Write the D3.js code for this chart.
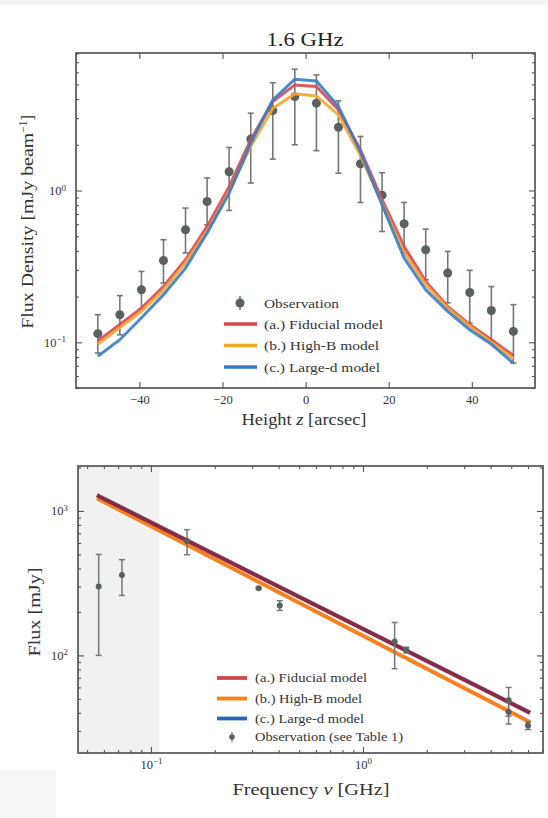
<!DOCTYPE html>
<html>
<head>
<meta charset="utf-8">
<script src="https://cdn.jsdelivr.net/npm/d3@7"></script>
<style>
  body { margin: 0; background: #fff; }
  svg { display: block; font-family: "Liberation Serif", "DejaVu Serif", serif; }
  .tick line { stroke: #555; stroke-width: 1.1; }
</style>
</head>
<body>
<svg id="fig" width="548" height="818"></svg>
<script>
// ---- top panel: vertical profile at 1.6 GHz ----
var heights = [-50, -44.7, -39.5, -34.2, -28.9, -23.7, -18.4, -13.2, -7.9, -2.6, 2.6, 7.9, 13.2, 18.4, 23.7, 28.9, 34.2, 39.5, 44.7, 50];
var obsFlux = [0.114, 0.152, 0.222, 0.346, 0.551, 0.847, 1.33, 2.18, 3.36, 4.15, 3.76, 2.61, 1.5, 0.93, 0.604, 0.407, 0.286, 0.213, 0.162, 0.118];
var obsLow  = [0.085, 0.112, 0.166, 0.246, 0.388, 0.594, 0.739, 1.12, 1.61, 2.0, 1.83, 1.30, 0.834, 0.537, 0.387, 0.258, 0.182, 0.134, 0.102, 0.073];
var obsHigh = [0.152, 0.203, 0.293, 0.474, 0.766, 1.21, 1.92, 3.23, 5.13, 6.29, 5.77, 3.89, 2.27, 1.31, 0.834, 0.557, 0.397, 0.298, 0.233, 0.177];
var fiducial = [0.102, 0.131, 0.168, 0.233, 0.35, 0.58, 1.06, 2.16, 3.85, 4.96, 4.85, 3.4, 1.85, 0.87, 0.428, 0.252, 0.172, 0.131, 0.104, 0.082];
var highB    = [0.097, 0.125, 0.16, 0.222, 0.335, 0.54, 0.98, 1.95, 3.48, 4.33, 4.2, 3.15, 1.7, 0.82, 0.39, 0.24, 0.168, 0.128, 0.1, 0.078];
var largeD   = [0.081, 0.104, 0.145, 0.206, 0.308, 0.525, 0.96, 2.05, 3.95, 5.41, 5.27, 3.57, 1.8, 0.805, 0.359, 0.222, 0.16, 0.121, 0.097, 0.073];
var topXTicks = [-40, -20, 0, 20, 40];
var topYTicks = [0.1, 1];

// ---- bottom panel: integrated spectrum ----
var freqObs = [0.0567, 0.073, 0.148, 0.322, 0.405, 1.41, 1.6, 4.86, 4.86, 6.0];
var fluxObs = [300, 360, 620, 292, 222, 125, 109, 49, 40.5, 32.7];
var fluxErr = [200, 100, 122, 4, 17, 44, 5, 11, 7, 2];
var modelFreq = [0.0556, 6.14];
var fidSpec   = [1285, 40];
var highBSpec = [1224, 34.5];
var largeDSpec = [1292, 40.3];
var botXTicks = [0.1, 1];
var botYTicks = [100, 1000];
var shadeEdge = 0.11;

var topLegend = ["Observation", "(a.) Fiducial model", "(b.) High-B model", "(c.) Large-d model"];
var topLegendW = [75, 119, 115, 116];
var botLegend = ["(a.) Fiducial model", "(b.) High-B model", "(c.) Large-d model", "Observation (see Table 1)"];
var botLegendW = [112, 107, 109, 148];

var svg = d3.select("#fig");

// faint grey page bits from the scan
svg.append("rect").attr("x", 0).attr("y", 0).attr("width", 548).attr("height", 5).attr("fill", "#f4f4f4");
svg.append("rect").attr("x", 0).attr("y", 770).attr("width", 56).attr("height", 48).attr("fill", "#f6f6f6");

function supLabel(sel, exp) {
  sel.text("10");
  sel.append("tspan").attr("dy", "-0.5em").attr("font-size", "0.72em").text(exp);
}
function minorLog(lo, hi) {
  var out = [];
  for (var e = Math.floor(Math.log10(lo)); e <= Math.ceil(Math.log10(hi)); e++) {
    for (var k = 2; k <= 9; k++) {
      var v = k * Math.pow(10, e);
      if (v >= lo && v <= hi) out.push(v);
    }
  }
  return out;
}
function clean(g) {
  g.select(".domain").remove();
  g.attr("font-family", "Liberation Serif").attr("font-size", 12.5);
  g.selectAll("text").attr("fill", "#333");
}

// =============== TOP PANEL ===============
var t = {left: 76, right: 535, top: 53, bottom: 388};
var x1 = d3.scaleLinear().domain([-55.25, 55.2]).range([t.left, t.right]);
var y1 = d3.scaleLog().domain([0.05, 8.05]).range([t.bottom, t.top]);

svg.append("text").attr("x", 305).attr("y", 46)
  .attr("text-anchor", "middle").attr("font-size", 19).attr("fill", "#222")
  .attr("textLength", 77).attr("lengthAdjust", "spacingAndGlyphs").text("1.6 GHz");

var g1 = svg.append("g");
var minor1 = minorLog(0.05, 8.05);

g1.append("g").attr("transform", "translate(0," + t.bottom + ")")
  .call(d3.axisBottom(x1).tickValues(topXTicks).tickSize(-6).tickPadding(7)
    .tickFormat(function(d){ return d < 0 ? "\u2212" + Math.abs(d) : d; }))
  .call(clean);
g1.append("g").attr("transform", "translate(0," + t.top + ")")
  .call(d3.axisTop(x1).tickValues(topXTicks).tickSize(-6).tickFormat(""))
  .call(clean);
g1.append("g").attr("transform", "translate(" + t.left + ",0)")
  .call(d3.axisLeft(y1).tickValues(topYTicks).tickSize(-6).tickPadding(10).tickFormat(""))
  .call(clean)
  .call(function(g){
    g.selectAll("text").each(function(d){ supLabel(d3.select(this), d === 1 ? "0" : "\u22121"); });
  });
g1.append("g").attr("transform", "translate(" + t.left + ",0)")
  .call(d3.axisLeft(y1).tickValues(minor1).tickSize(-3).tickFormat(""))
  .call(clean);
g1.append("g").attr("transform", "translate(" + t.right + ",0)")
  .call(d3.axisRight(y1).tickValues(topYTicks).tickSize(-6).tickFormat(""))
  .call(clean);
g1.append("g").attr("transform", "translate(" + t.right + ",0)")
  .call(d3.axisRight(y1).tickValues(minor1).tickSize(-3).tickFormat(""))
  .call(clean);

// error bars + points
var obsTop = heights.map(function(h, i){ return {x: h, y: obsFlux[i], lo: obsLow[i], hi: obsHigh[i]}; });
var eb = g1.append("g").attr("stroke", "#777").attr("stroke-width", 1.6);
eb.selectAll("line.v").data(obsTop).enter().append("line")
  .attr("x1", function(d){ return x1(d.x); }).attr("x2", function(d){ return x1(d.x); })
  .attr("y1", function(d){ return y1(d.lo); }).attr("y2", function(d){ return y1(d.hi); });
eb.selectAll("line.c1").data(obsTop).enter().append("line")
  .attr("x1", function(d){ return x1(d.x) - 3; }).attr("x2", function(d){ return x1(d.x) + 3; })
  .attr("y1", function(d){ return y1(d.hi); }).attr("y2", function(d){ return y1(d.hi); });
eb.selectAll("line.c2").data(obsTop).enter().append("line")
  .attr("x1", function(d){ return x1(d.x) - 3; }).attr("x2", function(d){ return x1(d.x) + 3; })
  .attr("y1", function(d){ return y1(d.lo); }).attr("y2", function(d){ return y1(d.lo); });
g1.selectAll("circle.obs").data(obsTop).enter().append("circle")
  .attr("cx", function(d){ return x1(d.x); }).attr("cy", function(d){ return y1(d.y); })
  .attr("r", 4.5).attr("fill", "#5a615d");

var topColors = ["#d9464e", "#f3a530", "#3a7cc4"];
var line1 = d3.line().x(function(d){ return x1(d[0]); }).y(function(d){ return y1(d[1]); });
[fiducial, highB, largeD].forEach(function(s, k){
  g1.append("path").datum(heights.map(function(h, i){ return [h, s[i]]; }))
    .attr("d", line1).attr("fill", "none").attr("stroke", topColors[k])
    .attr("stroke-width", 3).attr("stroke-opacity", 0.9);
});

g1.append("rect").attr("x", t.left).attr("y", t.top).attr("width", t.right - t.left).attr("height", t.bottom - t.top)
  .attr("fill", "none").attr("stroke", "#555").attr("stroke-width", 1.7);

// legend top
var lg1 = g1.append("g");
var lgY1 = [303, 324, 345.5, 367];
lg1.append("line").attr("x1", 240).attr("x2", 240).attr("y1", lgY1[0] - 7).attr("y2", lgY1[0] + 7)
  .attr("stroke", "#777").attr("stroke-width", 1.6);
lg1.append("circle").attr("cx", 240).attr("cy", lgY1[0]).attr("r", 4.5).attr("fill", "#5a615d");
topColors.forEach(function(c, k){
  lg1.append("line").attr("x1", 224).attr("x2", 257).attr("y1", lgY1[k + 1]).attr("y2", lgY1[k + 1])
    .attr("stroke", c).attr("stroke-width", 3.6);
});
lg1.selectAll("text").data(topLegend).enter().append("text")
  .attr("x", 264).attr("y", function(d, i){ return lgY1[i]; }).attr("dy", "0.35em")
  .attr("font-size", 13).attr("fill", "#333")
  .attr("textLength", function(d, i){ return topLegendW[i]; }).attr("lengthAdjust", "spacingAndGlyphs")
  .text(function(d){ return d; });

// axis labels
svg.append("text").attr("x", 304).attr("y", 425).attr("text-anchor", "middle")
  .attr("font-size", 16).attr("fill", "#333")
  .attr("textLength", 125).attr("lengthAdjust", "spacingAndGlyphs")
  .call(function(s){ s.text("Height "); s.append("tspan").attr("font-style", "italic").text("z"); s.append("tspan").text(" [arcsec]"); });
svg.append("text").attr("transform", "translate(33,222) rotate(-90)")
  .attr("text-anchor", "middle").attr("font-size", 16).attr("fill", "#333")
  .call(function(s){ s.append("tspan").attr("textLength", 196).attr("lengthAdjust", "spacingAndGlyphs").text("Flux Density [mJy beam"); s.append("tspan").attr("dy", "-0.5em").attr("font-size", "0.72em").text("\u22121"); s.append("tspan").attr("dy", "0.35em").text("]"); });

// =============== BOTTOM PANEL ===============
var b = {left: 78, right: 543, top: 466, bottom: 753};
var x2 = d3.scaleLog().domain([0.0453, 7.06]).range([b.left, b.right]);
var y2 = d3.scaleLog().domain([21.1, 2048]).range([b.bottom, b.top]);
var g2 = svg.append("g");

g2.append("rect").attr("x", b.left).attr("y", b.top).attr("width", x2(shadeEdge) - b.left).attr("height", b.bottom - b.top)
  .attr("fill", "#f1f1f1");

var minorX2 = minorLog(0.0453, 7.06), minorY2 = minorLog(21.1, 2048);
g2.append("g").attr("transform", "translate(0," + b.bottom + ")")
  .call(d3.axisBottom(x2).tickValues(botXTicks).tickSize(-6).tickPadding(7).tickFormat(""))
  .call(clean)
  .call(function(g){
    g.selectAll("text").each(function(d){ supLabel(d3.select(this), d === 1 ? "0" : "\u22121"); });
  });
g2.append("g").attr("transform", "translate(0," + b.bottom + ")")
  .call(d3.axisBottom(x2).tickValues(minorX2).tickSize(-3).tickFormat(""))
  .call(clean);
g2.append("g").attr("transform", "translate(0," + b.top + ")")
  .call(d3.axisTop(x2).tickValues(botXTicks).tickSize(-6).tickFormat(""))
  .call(clean);
g2.append("g").attr("transform", "translate(0," + b.top + ")")
  .call(d3.axisTop(x2).tickValues(minorX2).tickSize(-3).tickFormat(""))
  .call(clean);
g2.append("g").attr("transform", "translate(" + b.left + ",0)")
  .call(d3.axisLeft(y2).tickValues(botYTicks).tickSize(-6).tickPadding(10).tickFormat(""))
  .call(clean)
  .call(function(g){
    g.selectAll("text").each(function(d){ supLabel(d3.select(this), d === 1000 ? "3" : "2"); });
  });
g2.append("g").attr("transform", "translate(" + b.left + ",0)")
  .call(d3.axisLeft(y2).tickValues(minorY2).tickSize(-3).tickFormat(""))
  .call(clean);
g2.append("g").attr("transform", "translate(" + b.right + ",0)")
  .call(d3.axisRight(y2).tickValues(botYTicks).tickSize(-6).tickFormat(""))
  .call(clean);
g2.append("g").attr("transform", "translate(" + b.right + ",0)")
  .call(d3.axisRight(y2).tickValues(minorY2).tickSize(-3).tickFormat(""))
  .call(clean);

// model spectra (red and blue overlap -> dark maroon)
var line2 = d3.line().x(function(d){ return x2(d[0]); }).y(function(d){ return y2(d[1]); });
function spec(s){ return modelFreq.map(function(f, i){ return [f, s[i]]; }); }
g2.append("path").datum(spec(highBSpec)).attr("d", line2).attr("fill", "none").attr("stroke", "#f5821f").attr("stroke-width", 4);
g2.append("path").datum(spec(fidSpec)).attr("d", line2).attr("fill", "none").attr("stroke", "#a32539").attr("stroke-width", 4);
g2.append("path").datum(spec(largeDSpec)).attr("d", line2).attr("fill", "none").attr("stroke", "#2a3f80").attr("stroke-width", 4).attr("stroke-opacity", 0.25);

// observations
var obsBot = freqObs.map(function(f, i){ return {x: f, y: fluxObs[i], e: fluxErr[i]}; });
var eb2 = g2.append("g").attr("stroke", "#777").attr("stroke-width", 1.5);
eb2.selectAll("line.v").data(obsBot).enter().append("line")
  .attr("x1", function(d){ return x2(d.x); }).attr("x2", function(d){ return x2(d.x); })
  .attr("y1", function(d){ return y2(d.y - d.e); }).attr("y2", function(d){ return y2(d.y + d.e); });
eb2.selectAll("line.c1").data(obsBot).enter().append("line")
  .attr("x1", function(d){ return x2(d.x) - 3; }).attr("x2", function(d){ return x2(d.x) + 3; })
  .attr("y1", function(d){ return y2(d.y + d.e); }).attr("y2", function(d){ return y2(d.y + d.e); });
eb2.selectAll("line.c2").data(obsBot).enter().append("line")
  .attr("x1", function(d){ return x2(d.x) - 3; }).attr("x2", function(d){ return x2(d.x) + 3; })
  .attr("y1", function(d){ return y2(d.y - d.e); }).attr("y2", function(d){ return y2(d.y - d.e); });
g2.selectAll("circle.obs").data(obsBot).enter().append("circle")
  .attr("cx", function(d){ return x2(d.x); }).attr("cy", function(d){ return y2(d.y); })
  .attr("r", 3).attr("fill", "#5a615d");

g2.append("rect").attr("x", b.left).attr("y", b.top).attr("width", b.right - b.left).attr("height", b.bottom - b.top)
  .attr("fill", "none").attr("stroke", "#555").attr("stroke-width", 1.7);

// legend bottom
var lgY2 = [678, 698.5, 718.5, 737];
var botColors = ["#d2474f", "#f5821f", "#2c64b4"];
botColors.forEach(function(c, k){
  g2.append("line").attr("x1", 217).attr("x2", 247).attr("y1", lgY2[k]).attr("y2", lgY2[k])
    .attr("stroke", c).attr("stroke-width", 3.8);
});
g2.append("line").attr("x1", 232).attr("x2", 232).attr("y1", lgY2[3] - 5).attr("y2", lgY2[3] + 5)
  .attr("stroke", "#777").attr("stroke-width", 1.3);
g2.append("circle").attr("cx", 232).attr("cy", lgY2[3]).attr("r", 2.8).attr("fill", "#5a615d");
g2.selectAll("text.lg").data(botLegend).enter().append("text")
  .attr("x", 255).attr("y", function(d, i){ return lgY2[i]; }).attr("dy", "0.35em")
  .attr("font-size", 12.5).attr("fill", "#333")
  .attr("textLength", function(d, i){ return botLegendW[i]; }).attr("lengthAdjust", "spacingAndGlyphs")
  .text(function(d){ return d; });

svg.append("text").attr("x", 311).attr("y", 795).attr("text-anchor", "middle")
  .attr("font-size", 16).attr("fill", "#333")
  .attr("textLength", 157).attr("lengthAdjust", "spacingAndGlyphs")
  .call(function(s){ s.text("Frequency "); s.append("tspan").attr("font-style", "italic").text("\u03bd"); s.append("tspan").text(" [GHz]"); });
svg.append("text").attr("transform", "translate(40,612) rotate(-90)")
  .attr("text-anchor", "middle").attr("font-size", 16).attr("fill", "#333")
  .attr("textLength", 89).attr("lengthAdjust", "spacingAndGlyphs").text("Flux [mJy]");
</script>
</body>
</html>
